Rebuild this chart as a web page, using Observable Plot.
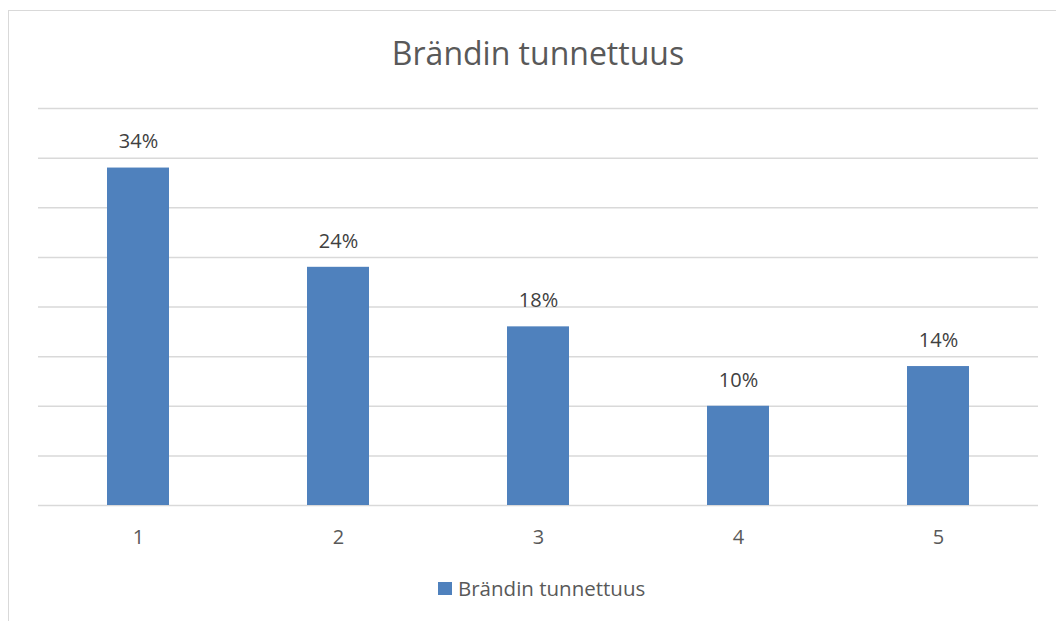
<!DOCTYPE html>
<html>
<head>
<meta charset="utf-8">
<script src="https://cdn.jsdelivr.net/npm/d3@7"></script>
<script src="https://cdn.jsdelivr.net/npm/@observablehq/plot@0.6"></script>
<style>
  html, body { margin: 0; padding: 0; background: #fff; overflow: hidden; }
  #chart { position: relative; width: 1056px; height: 621px; font-family: "Open Sans", sans-serif; }
  #frame { position: absolute; left: 8px; top: 10px; width: 1100px; height: 700px; border: 1.5px solid #d9d9d9; box-sizing: border-box; }
  #title { position: absolute; left: 0; width: 1076px; top: 31px; text-align: center; font-size: 32px; line-height: 44px; color: #595959; }
  #plot { position: absolute; left: 0; top: 0; }
  #legend { position: absolute; left: 438px; top: 574px; font-size: 20.5px; color: #595959; display: flex; align-items: center; }
  #legend .swatch { width: 14px; height: 13px; background: #4f81bd; margin-right: 6px; }
</style>
</head>
<body>
<div id="chart">
  <div id="frame"></div>
  <div id="title">Brändin tunnettuus</div>
  <div id="plot"></div>
  <div id="legend"><span class="swatch"></span><span>Brändin tunnettuus</span></div>
</div>
<script>
// Brand awareness share per rating level
const categories = ["1", "2", "3", "4", "5"];
const values = [34, 24, 18, 10, 14];
const gridTicks = [0, 5, 10, 15, 20, 25, 30, 35, 40];
const seriesName = "Brändin tunnettuus";

const data = categories.map((c, i) => ({category: c, value: values[i]}));

const chart = Plot.plot({
  width: 1056,
  height: 555,
  marginTop: 108,
  marginBottom: 50,
  marginLeft: 38,
  marginRight: 18,
  style: {fontFamily: "'Open Sans', sans-serif", background: "transparent"},
  x: {domain: categories, paddingInner: 0.69, paddingOuter: 0.345},
  y: {domain: [0, 40], axis: null},
  marks: [
    Plot.ruleY(gridTicks, {stroke: "#d9d9d9", strokeWidth: 1.5}),
    Plot.barY(data, {x: "category", y: "value", fill: "#4f81bd", title: d => seriesName}),
    Plot.text(data, {x: "category", y: "value", text: d => d.value + "%", dy: -26, fontSize: 20, fill: "#404040", lineAnchor: "middle"}),
    Plot.axisX({tickSize: 0, tickPadding: 24, fontSize: 20, color: "#595959", label: null})
  ]
});
document.getElementById("plot").appendChild(chart);
</script>
</body>
</html>
